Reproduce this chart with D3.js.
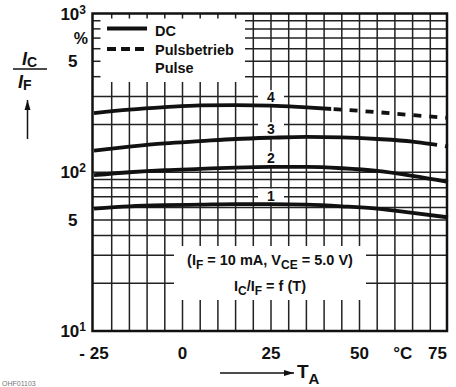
<!DOCTYPE html>
<html><head><meta charset="utf-8">
<script src="https://cdn.jsdelivr.net/npm/d3@7"></script>
<style>
html,body{margin:0;padding:0;background:#fff;}
svg{display:block;font-family:"Liberation Sans",Arial,Helvetica,sans-serif;}
</style></head>
<body>
<svg id="chart" width="456" height="387"></svg>
<script>
// ---- data ----
const temps = [-25, -15, -5, 5, 15, 25, 35, 45, 55, 65, 75];
const curve1 = [59, 61, 62, 62.5, 63, 63, 62.5, 61, 59, 55.5, 52];
const curve2 = [96, 100, 103, 105, 107, 108, 108, 106, 102, 95, 87];
const curve3 = [137, 145, 152, 157, 162, 165, 167, 166, 162, 156, 145];
const curve4 = [236, 248, 257, 264, 265, 263, 256, 248, 239, 229, 220];
const curveNames = ["1", "2", "3", "4"];
const pulseFrom = [null, null, 70, 42];   // DC valid up to this temperature, pulse beyond
const xTickValues = [-25, 0, 25, 50, 75];
const xTickLabels = ["- 25", "0", "25", "50", "75"];
const yLabelValues = [1000, 500, 100, 50, 10];
const yLabelBase = ["10", "5", "10", "5", "10"];
const yLabelExp = ["3", "", "2", "", "1"];
const legendLabels = ["DC", "Pulsbetrieb", "Pulse"];

// ---- layout ----
const svg = d3.select("#chart");
const x = d3.scaleLinear().domain([-25, 75]).range([94, 448]);
const y = d3.scaleLog().domain([10, 1000]).range([331, 13.5]);
const frameL = 92.5, frameR = 447, frameT = 13.5, frameB = 331;
const ink = "#111";
const gridCol = "#222";

// grid
const gx = d3.range(-20, 75, 5);
const gy = [20,30,40,50,60,70,80,90,100,200,300,400,500,600,700,800,900];
svg.append("g").selectAll("line").data(gx).join("line")
  .attr("x1", d => x(d)).attr("x2", d => x(d)).attr("y1", frameT).attr("y2", frameB)
  .attr("stroke", gridCol).attr("stroke-width", 1.5);
svg.append("g").selectAll("line").data(gy).join("line")
  .attr("x1", frameL).attr("x2", frameR).attr("y1", d => y(d)).attr("y2", d => y(d))
  .attr("stroke", gridCol).attr("stroke-width", 1.5);

// white boxes (legend, condition text)
const legendBox = {x0: frameL, x1: 245, y0: frameT, y1: 82};
svg.append("rect").attr("x", legendBox.x0).attr("y", legendBox.y0)
  .attr("width", legendBox.x1 - legendBox.x0).attr("height", legendBox.y1 - legendBox.y0).attr("fill", "#fff");
svg.append("rect").attr("x", 174).attr("y", 246).attr("width", 192).attr("height", 54).attr("fill", "#fff");

// ticks inside legend box
svg.append("g").selectAll("line").data(gy.filter(v => y(v) < legendBox.y1)).join("line")
  .attr("x1", frameL).attr("x2", frameL + 8).attr("y1", d => y(d)).attr("y2", d => y(d))
  .attr("stroke", gridCol).attr("stroke-width", 1.5);
svg.append("g").selectAll("line").data(gx.filter(v => x(v) < legendBox.x1)).join("line")
  .attr("x1", d => x(d)).attr("x2", d => x(d)).attr("y1", frameT).attr("y2", frameT + 5)
  .attr("stroke", gridCol).attr("stroke-width", 1.5);

// curve label boxes
const series = [curve1, curve2, curve3, curve4];
const labelT = 25;
const labelY = s => y(s[temps.indexOf(labelT)]) - 8.5;
svg.append("g").selectAll("rect").data(series).join("rect")
  .attr("x", x(labelT) - 13).attr("y", d => labelY(d) - 7).attr("width", 26).attr("height", 14)
  .attr("fill", "#fff");
svg.append("g").selectAll("text").data(series).join("text")
  .attr("x", x(labelT)).attr("y", d => labelY(d) + 5)
  .attr("text-anchor", "middle").attr("font-size", 14).attr("font-weight", "bold").attr("fill", ink)
  .text((d, i) => curveNames[i]);

// frame
svg.append("rect").attr("x", frameL).attr("y", frameT).attr("width", frameR - frameL).attr("height", frameB - frameT)
  .attr("fill", "none").attr("stroke", ink).attr("stroke-width", 2.5);

// clip paths for DC / pulse parts
const defs = svg.append("defs");
series.forEach((s, i) => {
  if (pulseFrom[i] === null) return;
  defs.append("clipPath").attr("id", "solid" + i).append("rect")
    .attr("x", 0).attr("y", 0).attr("width", x(pulseFrom[i])).attr("height", 387);
  defs.append("clipPath").attr("id", "dash" + i).append("rect")
    .attr("x", x(pulseFrom[i])).attr("y", 0).attr("width", 456 - x(pulseFrom[i])).attr("height", 387);
});

const line = d3.line().x(d => x(d[0])).y(d => y(d[1])).curve(d3.curveMonotoneX);
series.forEach((s, i) => {
  const pts = temps.map((t, k) => [t, s[k]]);
  const p = svg.append("path").attr("d", line(pts)).attr("fill", "none")
    .attr("stroke", ink).attr("stroke-width", 3.8);
  if (pulseFrom[i] !== null) {
    p.attr("clip-path", "url(#solid" + i + ")");
    svg.append("path").attr("d", line(pts)).attr("fill", "none")
      .attr("stroke", ink).attr("stroke-width", 3.8).attr("stroke-dasharray", "8,8")
      .attr("clip-path", "url(#dash" + i + ")");
  }
});

// legend
svg.append("line").attr("x1", 107).attr("x2", 147).attr("y1", 28.5).attr("y2", 28.5)
  .attr("stroke", ink).attr("stroke-width", 3.8);
svg.append("line").attr("x1", 107).attr("x2", 147).attr("y1", 49).attr("y2", 49)
  .attr("stroke", ink).attr("stroke-width", 3.8).attr("stroke-dasharray", "9,5");
svg.append("g").selectAll("text").data(legendLabels).join("text")
  .attr("x", 155).attr("y", (d, i) => [36, 55, 73][i])
  .attr("font-size", 14.5).attr("font-weight", "bold").attr("fill", ink).text(d => d);

// y tick labels
const ylab = svg.append("g").attr("font-size", 17).attr("font-weight", "bold").attr("fill", ink);
yLabelValues.forEach((v, i) => {
  const t = ylab.append("text").attr("y", y(v) + 6).attr("text-anchor", "end")
    .attr("x", yLabelExp[i] ? 86 : 77.5);
  t.append("tspan").text(yLabelBase[i]);
  if (yLabelExp[i]) t.append("tspan").attr("dy", -6).attr("font-size", 12).text(yLabelExp[i]);
});
svg.append("text").attr("x", 88).attr("y", 43.5).attr("text-anchor", "end")
  .attr("font-size", 16).attr("font-weight", "bold").attr("fill", ink).text("%");

// x tick labels
svg.append("g").selectAll("text").data(xTickValues).join("text")
  .attr("x", (d, i) => i === xTickValues.length - 1 ? x(d) - 1 : x(d))
  .attr("y", 359)
  .attr("text-anchor", (d, i) => i === xTickValues.length - 1 ? "end" : "middle")
  .attr("font-size", 17).attr("font-weight", "bold").attr("fill", ink)
  .text((d, i) => xTickLabels[i]);
svg.append("text").attr("x", x(62.5) - 1).attr("y", 359).attr("text-anchor", "middle")
  .attr("font-size", 17).attr("font-weight", "bold").attr("fill", ink).text("°C");

// x axis title with arrow
defs.append("marker").attr("id", "arr").attr("viewBox", "0 0 10 10").attr("refX", 10).attr("refY", 5)
  .attr("markerWidth", 10).attr("markerHeight", 10).attr("markerUnits", "userSpaceOnUse").attr("orient", "auto")
  .append("path").attr("d", "M0,2 L10,5 L0,8 Z").attr("fill", ink);
svg.append("line").attr("x1", 220).attr("x2", 294).attr("y1", 373).attr("y2", 373)
  .attr("stroke", ink).attr("stroke-width", 1.5).attr("marker-end", "url(#arr)");
const ta = svg.append("text").attr("x", 297).attr("y", 378).attr("font-size", 19).attr("font-weight", "bold").attr("fill", ink);
ta.append("tspan").text("T");
ta.append("tspan").attr("dy", 6).attr("font-size", 15).text("A");

// y axis title (fraction with arrow)
const yt1 = svg.append("text").attr("x", 22).attr("y", 65).attr("font-size", 18).attr("font-weight", "bold").attr("fill", ink);
yt1.append("tspan").attr("font-style", "italic").text("I");
yt1.append("tspan").attr("dy", 2).attr("font-size", 14).text("C");
svg.append("line").attr("x1", 13).attr("x2", 47).attr("y1", 69).attr("y2", 69).attr("stroke", ink).attr("stroke-width", 1.5);
const yt2 = svg.append("text").attr("x", 18).attr("y", 88).attr("font-size", 18).attr("font-weight", "bold").attr("fill", ink);
yt2.append("tspan").attr("font-style", "italic").text("I");
yt2.append("tspan").attr("dy", 2).attr("font-size", 14).text("F");
svg.append("line").attr("x1", 27.5).attr("x2", 27.5).attr("y1", 139).attr("y2", 100)
  .attr("stroke", ink).attr("stroke-width", 1.5).attr("marker-end", "url(#arr)");

// condition text
const c1 = svg.append("text").attr("x", 270).attr("y", 265).attr("text-anchor", "middle")
  .attr("font-size", 14.5).attr("font-weight", "bold").attr("fill", ink);
c1.append("tspan").text("(I");
c1.append("tspan").attr("dy", 4).attr("font-size", 12).text("F");
c1.append("tspan").attr("dy", -4).text(" = 10 mA, V");
c1.append("tspan").attr("dy", 4).attr("font-size", 12).text("CE");
c1.append("tspan").attr("dy", -4).text(" = 5.0 V)");
const c2 = svg.append("text").attr("x", 270).attr("y", 291).attr("text-anchor", "middle")
  .attr("font-size", 14.5).attr("font-weight", "bold").attr("fill", ink);
c2.append("tspan").text("I");
c2.append("tspan").attr("dy", 4).attr("font-size", 12).text("C");
c2.append("tspan").attr("dy", -4).text("/I");
c2.append("tspan").attr("dy", 4).attr("font-size", 12).text("F");
c2.append("tspan").attr("dy", -4).text(" = f (T)");

// footnote (document code, bottom-left)
svg.append("text").attr("x", 2).attr("y", 385.5).attr("font-size", 7).attr("fill", "#777").text("OHF01103");
</script>
</body></html>
